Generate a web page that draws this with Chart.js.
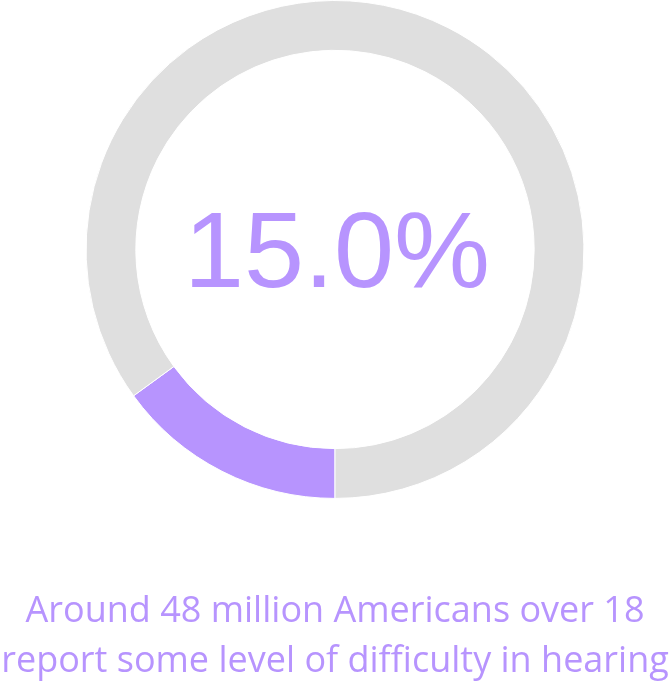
<!DOCTYPE html>
<html>
<head>
<meta charset="utf-8">
<script src="https://cdn.jsdelivr.net/npm/chart.js@4"></script>
<style>
  html, body { margin: 0; padding: 0; background: #fff; }
  #wrap { width: 670px; height: 687px; }
</style>
</head>
<body>
<div id="wrap"><canvas id="hearingChart" width="670" height="687"></canvas></div>
<script>
// datos del gráfico
const labels = ["Difficulty in hearing", "Rest"];
const values = [15.0, 85.0];
const colors = ["#b794fe", "#dfdfdf"];
const centerLabel = "15.0%";
const caption = ["Around 48 million Americans over 18", "report some level of difficulty in hearing"];

// texto en el centro del anillo
const centerText = {
    id: "centerText",
    afterDraw(chart) {
        const meta = chart.getDatasetMeta(0);
        const arc = meta.data[0];
        const ctx = chart.ctx;
        ctx.save();
        ctx.font = "108px 'Liberation Sans', Arial, sans-serif";
        ctx.fillStyle = colors[0];
        ctx.textAlign = "center";
        ctx.textBaseline = "middle";
        ctx.fillText(centerLabel, arc.x + 2, arc.y + 8);
        ctx.restore();
    }
};

const ctx = document.getElementById("hearingChart").getContext("2d");
new Chart(ctx, {
    type: "doughnut",
    data: {
        labels: labels,
        datasets: [{
            data: values,
            backgroundColor: colors,
            borderColor: "#ffffff",
            borderWidth: 1,
            hoverOffset: 0
        }]
    },
    options: {
        responsive: false,
        animation: false,
        rotation: 180,
        cutout: "80%",
        events: [],
        plugins: {
            legend: { display: false },
            tooltip: { enabled: false },
            title: {
                display: true,
                position: "bottom",
                text: caption,
                color: "#b794fe",
                font: { family: "'Open Sans', sans-serif", size: 36, weight: "normal", lineHeight: 1.39 },
                padding: { top: 88, bottom: 0 }
            }
        }
    },
    plugins: [centerText]
});
</script>
</body>
</html>
